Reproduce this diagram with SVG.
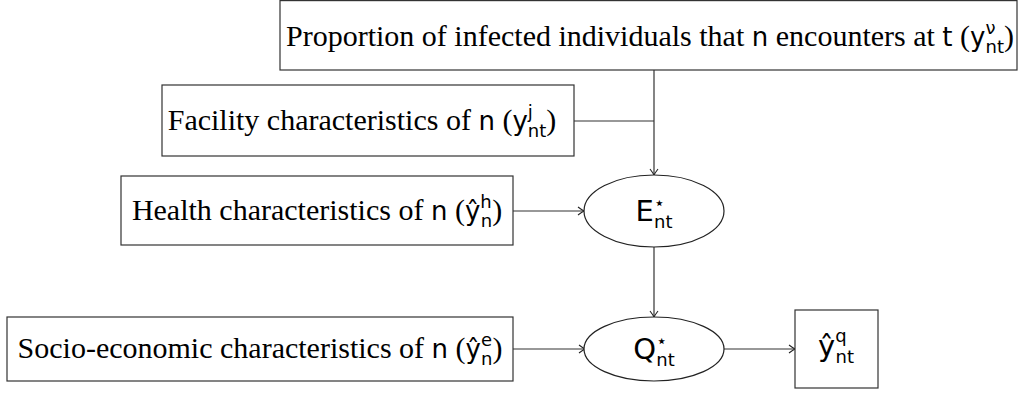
<svg xmlns="http://www.w3.org/2000/svg" width="1019" height="397" viewBox="0 0 1019 397">
<style>
.box{fill:#fff;stroke:#333;stroke-width:1.2}
.ell{fill:#fff;stroke:#222;stroke-width:1.2}
.t{font-family:"Liberation Serif","Times New Roman",serif;font-size:30px;fill:#000}
.m{font-family:"DejaVu Sans",sans-serif;font-size:26px}
.L{font-family:"DejaVu Sans",sans-serif;font-size:29px}
.s{font-family:"DejaVu Sans",sans-serif;font-size:18px}
.c{fill:none;stroke:#333;stroke-width:1.2}
</style>
<defs>
<marker id="ar" markerWidth="12" markerHeight="12" refX="10" refY="6" orient="auto" markerUnits="userSpaceOnUse">
<path d="M4,2 Q8,5 10,6 Q8,7 4,10" fill="none" stroke="#222" stroke-width="1.1"/>
</marker>
</defs>
<g id="connectors">
<path class="c" d="M654,70 V175" marker-end="url(#ar)"/>
<path class="c" d="M574,121 H654"/>
<path class="c" d="M513,211 H584" marker-end="url(#ar)"/>
<path class="c" d="M654,247 V317" marker-end="url(#ar)"/>
<path class="c" d="M513,349 H585" marker-end="url(#ar)"/>
<path class="c" d="M724,349 H795" marker-end="url(#ar)"/>
</g>
<g id="node-proportion">
<rect class="box" x="280" y="0.6" width="737" height="69.4"/>
<text class="t" x="650" y="46" text-anchor="middle">Proportion of infected individuals that <tspan class="m">n</tspan> encounters at <tspan class="m">t</tspan> (<tspan class="m">y</tspan><tspan class="s" dy="-12">ν</tspan><tspan class="s" dx="-10" dy="19">nt</tspan><tspan dy="-7">)</tspan></text>
</g>
<g id="node-facility">
<rect class="box" x="162" y="85" width="412" height="71"/>
<text class="t" x="362" y="130" text-anchor="middle">Facility characteristics of <tspan class="m">n</tspan> (<tspan class="m">y</tspan><tspan class="s" dy="-12">j</tspan><tspan class="s" dx="-5" dy="19">nt</tspan><tspan dy="-7">)</tspan></text>
</g>
<g id="node-health">
<rect class="box" x="121" y="176" width="392" height="69"/>
<text class="t" x="317" y="220" text-anchor="middle">Health characteristics of <tspan class="m">n</tspan> (<tspan class="m">ŷ</tspan><tspan class="s" dy="-12">h</tspan><tspan class="s" dx="-11" dy="19">n</tspan><tspan dy="-7">)</tspan></text>
</g>
<g id="node-socio">
<rect class="box" x="7" y="317" width="506" height="64"/>
<text class="t" x="260" y="358" text-anchor="middle">Socio-economic characteristics of <tspan class="m">n</tspan> (<tspan class="m">ŷ</tspan><tspan class="s" dy="-12">e</tspan><tspan class="s" dx="-11" dy="19">n</tspan><tspan dy="-7">)</tspan></text>
</g>
<g id="node-E">
<ellipse class="ell" cx="654" cy="211" rx="70" ry="36"/>
<text class="L" x="654" y="221" text-anchor="middle">E<tspan class="s" dy="-12">⋆</tspan><tspan class="s" dx="-11" dy="19">nt</tspan></text>
</g>
<g id="node-Q">
<ellipse class="ell" cx="654" cy="349" rx="70" ry="32"/>
<text class="L" x="654" y="359" text-anchor="middle">Q<tspan class="s" dy="-12">⋆</tspan><tspan class="s" dx="-11" dy="19">nt</tspan></text>
</g>
<g id="node-output">
<rect class="box" x="795" y="310" width="83" height="78"/>
<text class="L" x="836" y="356" text-anchor="middle">ŷ<tspan class="s" dy="-14">q</tspan><tspan class="s" dx="-11" dy="21">nt</tspan></text>
</g>
</svg>
